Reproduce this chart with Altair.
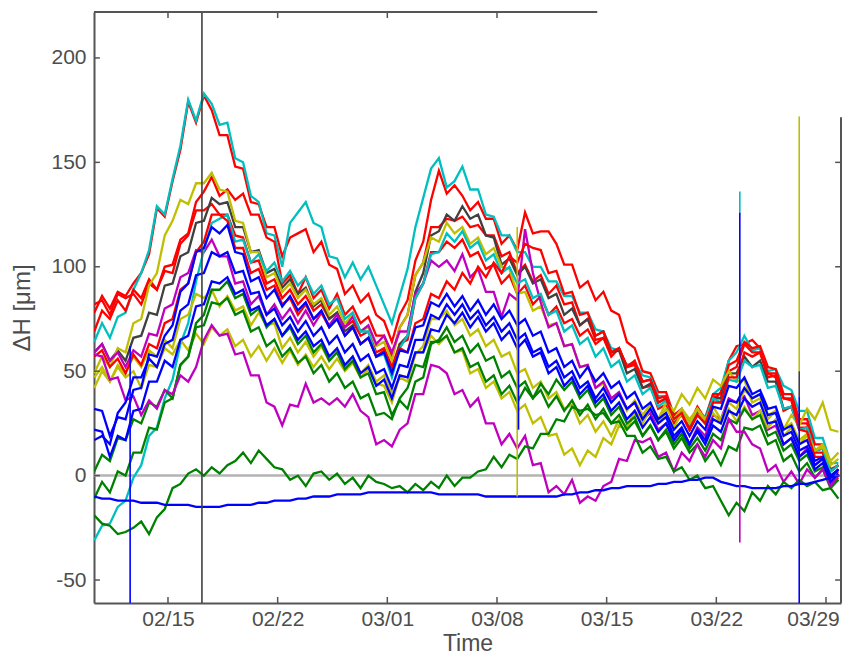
import altair as alt
import pandas as pd

# ---------------- data ----------------
START = "2015-02-10 07:00"   # first sample, one sample every 12 h
N_POINTS = 96

series_names = ["red1", "cyan1", "red2", "red4", "black1", "yellow1", "magenta1",
                "cyan2", "yellow2", "yellow3", "green2", "green3", "red3",
                "magenta2", "blue1", "blue2", "blue3", "green1", "blueflat"]
series_colors = ["#FF0000", "#00BFBF", "#FF0000", "#FF0000", "#404040", "#BFBF00", "#BF00BF",
                 "#00BFBF", "#BFBF00", "#BFBF00", "#008000", "#008000", "#FF0000",
                 "#BF00BF", "#0000FF", "#0000FF", "#0000FF", "#008000", "#0000FF"]

red1 = [78, 86, 80, 88, 86, 92, 97, 106, 128, 124, 141, 156,
        179, 169, 182, 175, 163, 163, 148, 147, 131, 130, 119, 119,
        105, 114, 116, 118, 107, 112, 101, 99, 87, 91, 83, 87,
        77, 74, 64, 77, 84, 103, 112, 132, 146, 135, 139, 134,
        127, 131, 123, 123, 111, 115, 108, 126, 116, 117, 117, 111,
        101, 101, 90, 93, 84, 88, 79, 77, 64, 61, 50, 49,
        40, 40, 29, 31, 23, 32, 25, 36, 40, 55, 62, 63,
        65, 61, 49, 47, 31, 33, 23, 23, 11, 11, 0, 2]
cyan1 = [64, 73, 66, 76, 78, 89, 97, 108, 129, 125, 142, 158,
         180, 170, 183, 178, 168, 169, 152, 150, 134, 131, 116, 115,
         100, 121, 126, 131, 121, 119, 105, 104, 95, 102, 94, 100,
         91, 82, 73, 86, 99, 119, 133, 147, 152, 138, 141, 148,
         137, 137, 125, 124, 115, 115, 107, 107, 100, 100, 93, 93,
         86, 86, 78, 78, 70, 69, 61, 60, 53, 54, 48, 47,
         38, 38, 29, 30, 23, 31, 28, 39, 42, 55, 59, 67,
         60, 61, 50, 51, 43, 41, 31, 31, 18, 18, 6, 6]
red2 = [69, 79, 75, 84, 79, 89, 85, 94, 89, 100, 101, 113,
        116, 131, 136, 143, 134, 137, 132, 135, 125, 125, 114, 112,
        92, 96, 87, 95, 85, 89, 80, 87, 77, 81, 73, 76,
        67, 67, 57, 71, 77, 96, 102, 119, 119, 123, 122, 124,
        119, 120, 115, 115, 105, 107, 97, 101, 93, 96, 87, 91,
        82, 83, 72, 75, 65, 66, 57, 61, 52, 53, 42, 43,
        32, 34, 25, 29, 22, 31, 27, 38, 37, 50, 52, 63,
        59, 59, 47, 48, 37, 37, 25, 25, 12, 13, 2, 5]
red4 = [82, 84, 77, 87, 85, 87, 82, 92, 89, 98, 97, 111,
        115, 127, 127, 130, 125, 125, 115, 114, 102, 103, 92, 94,
        85, 89, 82, 86, 79, 82, 75, 78, 71, 74, 67, 69,
        59, 61, 52, 63, 65, 85, 92, 107, 107, 112, 109, 113,
        105, 107, 99, 101, 92, 96, 87, 91, 82, 86, 77, 81,
        73, 75, 67, 70, 63, 66, 59, 61, 52, 54, 45, 46,
        37, 38, 29, 32, 25, 33, 27, 39, 39, 53, 55, 64,
        61, 62, 52, 51, 39, 39, 27, 27, 15, 15, 3, 5]
black1 = [59, 63, 55, 60, 55, 66, 67, 78, 77, 91, 92, 105,
          107, 121, 122, 133, 130, 131, 119, 119, 107, 108, 97, 99,
          90, 94, 87, 90, 81, 84, 75, 78, 69, 72, 63, 66,
          57, 59, 49, 63, 67, 88, 97, 115, 117, 125, 122, 129,
          123, 125, 115, 114, 101, 104, 96, 100, 92, 94, 85, 87,
          77, 80, 72, 75, 67, 69, 59, 60, 49, 51, 42, 44,
          35, 37, 27, 30, 22, 29, 25, 37, 37, 49, 49, 57,
          52, 55, 45, 45, 32, 33, 22, 23, 12, 13, 2, 5]
yellow1 = [49, 57, 52, 61, 59, 73, 75, 91, 97, 115, 122, 132,
           130, 140, 140, 145, 137, 136, 122, 121, 107, 107, 95, 97,
           88, 92, 85, 89, 82, 85, 77, 81, 73, 77, 69, 71,
           62, 64, 55, 71, 77, 96, 102, 114, 112, 121, 116, 119,
           111, 114, 106, 109, 100, 99, 87, 88, 79, 81, 72, 73,
           62, 63, 52, 53, 42, 44, 35, 39, 31, 36, 29, 34,
           27, 35, 31, 39, 34, 42, 37, 46, 43, 50, 45, 46,
           35, 37, 27, 31, 22, 29, 24, 32, 27, 35, 22, 21]
magenta1 = [59, 63, 55, 59, 52, 60, 57, 68, 67, 80, 82, 95,
            97, 108, 107, 113, 105, 105, 92, 93, 82, 86, 77, 82,
            75, 80, 73, 79, 72, 78, 72, 77, 71, 76, 69, 72,
            63, 67, 59, 69, 69, 87, 92, 103, 100, 103, 98, 106,
            95, 99, 88, 88, 76, 87, 84, 118, 97, 83, 71, 73,
            62, 63, 52, 53, 42, 45, 37, 40, 32, 35, 27, 30,
            22, 25, 17, 22, 15, 23, 19, 29, 27, 37, 35, 38,
            29, 31, 22, 24, 15, 18, 9, 13, 5, 8, -1, 3]
cyan2 = [-31, -24, -23, -15, -12, -1, 5, 19, 23, 37, 46, 63,
         73, 93, 108, 121, 123, 125, 112, 113, 102, 106, 98, 102,
         93, 98, 91, 95, 87, 91, 82, 85, 75, 78, 69, 69,
         57, 58, 47, 61, 67, 85, 92, 106, 107, 116, 112, 117,
         109, 112, 103, 106, 97, 100, 92, 94, 85, 87, 77, 79,
         69, 72, 63, 66, 57, 61, 52, 55, 45, 48, 39, 42,
         33, 36, 27, 32, 25, 32, 27, 37, 35, 46, 45, 55,
         52, 53, 42, 43, 32, 33, 22, 23, 12, 13, 2, 5]
yellow2 = [42, 50, 45, 53, 49, 57, 52, 60, 57, 65, 61, 75,
           77, 87, 85, 89, 81, 86, 79, 81, 72, 78, 72, 73,
           61, 66, 59, 64, 57, 62, 55, 60, 52, 57, 49, 53,
           45, 48, 39, 47, 45, 58, 62, 75, 75, 79, 72, 75,
           67, 70, 62, 65, 57, 59, 49, 51, 42, 45, 37, 40,
           32, 34, 25, 29, 21, 26, 19, 27, 23, 31, 27, 32,
           25, 30, 23, 30, 25, 32, 27, 33, 27, 35, 32, 41,
           37, 39, 29, 31, 22, 25, 17, 20, 12, 14, 5, 8]
yellow3 = [47, 52, 45, 52, 47, 50, 42, 53, 52, 61, 58, 65,
           60, 68, 63, 71, 67, 70, 62, 65, 57, 62, 55, 61,
           54, 60, 53, 58, 52, 57, 51, 56, 50, 54, 47, 51,
           44, 43, 35, 48, 47, 59, 59, 67, 63, 67, 59, 60,
           49, 51, 42, 45, 37, 40, 31, 34, 25, 28, 19, 20,
           10, 13, 5, 12, 9, 18, 15, 24, 22, 30, 25, 32,
           27, 32, 27, 32, 27, 32, 25, 30, 25, 32, 26, 33,
           27, 31, 23, 27, 19, 23, 15, 19, 12, 15, 7, 11]
green2 = [2, 10, 7, 18, 17, 27, 25, 35, 33, 41, 37, 53,
          57, 73, 77, 89, 89, 93, 85, 87, 77, 80, 71, 75,
          67, 71, 63, 67, 59, 63, 55, 59, 51, 55, 47, 49,
          39, 40, 29, 36, 32, 45, 47, 63, 65, 71, 64, 67,
          59, 63, 55, 57, 47, 50, 42, 45, 37, 41, 33, 38,
          31, 36, 29, 34, 27, 32, 25, 29, 22, 26, 19, 24,
          17, 22, 15, 20, 13, 18, 12, 20, 17, 27, 25, 32,
          27, 29, 19, 21, 12, 15, 7, 10, 2, 4, -5, -2]
green3 = [-11, -3, -8, 2, 0, 11, 11, 23, 22, 35, 37, 53,
          57, 71, 72, 83, 82, 85, 77, 79, 69, 71, 62, 65,
          57, 61, 54, 57, 49, 53, 45, 49, 42, 45, 37, 39,
          29, 30, 27, 37, 42, 53, 52, 64, 64, 67, 59, 61,
          52, 54, 45, 48, 39, 43, 35, 42, 37, 44, 39, 46,
          41, 45, 37, 41, 33, 37, 29, 33, 25, 28, 19, 24,
          17, 21, 13, 18, 11, 15, 7, 12, 5, 14, 12, 23,
          22, 24, 15, 17, 7, 10, 2, 6, -1, 3, -6, -2]
red3 = [57, 60, 52, 56, 49, 58, 53, 63, 61, 73, 75, 89,
        92, 107, 112, 125, 125, 122, 109, 109, 97, 99, 89, 91,
        82, 85, 77, 82, 75, 78, 71, 75, 67, 71, 63, 66,
        57, 60, 52, 61, 59, 73, 75, 87, 85, 93, 89, 97,
        92, 100, 95, 102, 97, 105, 102, 111, 109, 108, 97, 98,
        87, 88, 77, 78, 67, 69, 59, 61, 52, 55, 45, 46,
        35, 37, 27, 30, 22, 29, 25, 35, 35, 47, 47, 59,
        57, 59, 49, 49, 37, 36, 22, 21, 9, 9, -3, -1]
magenta2 = [58, 57, 46, 47, 36, 38, 29, 36, 32, 41, 39, 48,
            45, 52, 65, 72, 67, 68, 58, 59, 48, 48, 35, 33,
            24, 34, 33, 44, 35, 37, 34, 37, 33, 39, 31, 28,
            15, 17, 14, 22, 25, 39, 39, 53, 52, 49, 39, 41,
            33, 37, 25, 25, 15, 20, 13, 19, 5, 6, -8, -5,
            -9, -2, -13, -10, -12, -5, -3, 8, 7, 17, 16, 18,
            9, 11, 2, 11, 7, 15, 9, 17, 13, 27, 21, 21,
            15, 13, 2, 5, -3, 2, -4, 3, -1, 3, -5, 0]
blue1 = [32, 31, 19, 28, 27, 41, 42, 58, 57, 67, 72, 88,
         92, 107, 109, 119, 116, 120, 107, 106, 93, 95, 85, 89,
         81, 86, 79, 83, 75, 79, 71, 75, 67, 71, 63, 66,
         57, 59, 49, 60, 59, 71, 72, 83, 81, 87, 81, 86,
         79, 84, 77, 82, 75, 79, 72, 75, 67, 69, 59, 61,
         52, 55, 47, 52, 45, 49, 42, 45, 37, 40, 32, 35,
         27, 30, 22, 26, 19, 26, 22, 33, 32, 43, 42, 47,
         39, 41, 32, 33, 22, 24, 15, 17, 7, 9, 0, 3]
blue2 = [17, 19, 15, 30, 35, 47, 47, 56, 52, 63, 65, 79,
         82, 96, 97, 107, 105, 107, 97, 98, 87, 88, 77, 80,
         72, 76, 69, 74, 67, 71, 63, 67, 59, 63, 55, 58,
         49, 51, 42, 53, 52, 65, 65, 77, 75, 82, 77, 82,
         75, 79, 72, 76, 69, 73, 65, 68, 59, 61, 52, 55,
         47, 50, 42, 45, 37, 42, 35, 39, 32, 35, 27, 32,
         25, 28, 19, 23, 15, 22, 17, 27, 25, 36, 35, 42,
         37, 39, 29, 30, 19, 21, 12, 14, 5, 8, -1, 3]
blue3 = [22, 21, 9, 19, 17, 31, 32, 45, 45, 55, 52, 65,
         67, 81, 82, 93, 92, 95, 87, 89, 79, 81, 72, 75,
         67, 72, 65, 69, 62, 65, 57, 61, 53, 57, 49, 52,
         43, 46, 37, 48, 47, 59, 59, 70, 69, 77, 73, 78,
         71, 76, 69, 73, 65, 69, 61, 65, 57, 59, 49, 52,
         43, 47, 39, 43, 35, 39, 31, 35, 27, 31, 23, 28,
         21, 25, 17, 22, 15, 21, 15, 24, 21, 31, 29, 37,
         33, 35, 25, 26, 15, 18, 9, 12, 3, 6, -3, 1]
green1 = [-19, -23, -24, -28, -27, -25, -22, -28, -20, -16, -6, -4,
          1, 3, 0, 4, 1, 5, 7, 11, 6, 12, 8, 4,
          3, -2, 0, -5, 1, 2, -2, 1, -4, -1, -6, 0,
          -3, -4, -6, -5, -8, -4, -7, -3, -6, 0, -5, -1,
          -1, 2, 3, 9, 4, 10, 8, 14, 13, 20, 20, 27,
          26, 33, 31, 32, 29, 30, 25, 26, 19, 19, 11, 14,
          8, 9, 2, 4, -2, 0, -6, -5, -12, -19, -13, -17,
          -8, -12, -5, -9, -3, -6, -2, -5, -3, -7, -6, -11]
blueflat = [-10, -11, -11, -12, -12, -12, -13, -13, -13, -14, -14, -14,
            -14, -15, -15, -15, -15, -14, -14, -14, -14, -13, -13, -12,
            -12, -12, -11, -11, -10, -10, -10, -9, -9, -9, -9, -8,
            -8, -8, -8, -8, -8, -8, -8, -8, -9, -9, -9, -9,
            -9, -9, -10, -10, -10, -10, -10, -10, -10, -10, -10, -10,
            -9, -9, -8, -8, -7, -7, -6, -6, -5, -5, -5, -5,
            -4, -4, -3, -3, -2, -2, -1, -1, -3, -4, -5, -5,
            -6, -6, -6, -6, -5, -5, -4, -4, -3, -2, -1, 0]

series_values = [red1, cyan1, red2, red4, black1, yellow1, magenta1,
                 cyan2, yellow2, yellow3, green2, green3, red3,
                 magenta2, blue1, blue2, blue3, green1, blueflat]

# single-sample spikes (vertical strokes)
spike_times = ["2015-02-12 14:00", "2015-02-17 04:00", "2015-03-09 07:00", "2015-03-09 09:00",
               "2015-03-23 12:00", "2015-03-23 12:00", "2015-03-23 12:00",
               "2015-03-27 07:00", "2015-03-27 07:00", "2015-03-27 07:00"]
spike_top = [62, 230, 119, 88, 136, 126, 30, 172, 50, 38]
spike_bottom = [-70, -70, -10, 22, 126, 30, -32, 50, 38, -70]
spike_colors = ["#0000FF", "#404040", "#BFBF00", "#0000FF", "#00BFBF", "#0000FF", "#BF00BF",
                "#BFBF00", "#404040", "#0000FF"]

# axes
x_ticks = ["2015-02-15", "2015-02-22", "2015-03-01", "2015-03-08", "2015-03-15", "2015-03-22", "2015-03-29"]
x_ticks_top = x_ticks[:4]
y_ticks = [-50, 0, 50, 100, 150, 200]
y_ticks_right = [-50, 0, 50, 100, 150]
X_MIN = "2015-02-10 06:39"
X_MAX = "2015-03-29 23:00"
Y_MIN, Y_MAX = -61, 222
TOP_FRAME_END = "2015-03-14 09:36"   # frame is cut by a blank box at top right
RIGHT_FRAME_TOP = 171.6

# ---------------- build ----------------
FONT = "Liberation Sans"
TXT = "#4d4d4d"
FRAME = "#555555"
TICK_Y = 2.9
TICK_X = pd.Timedelta(hours=9)

times = pd.date_range(START, periods=N_POINTS, freq="12h")
rows = []
for k, (name, vals) in enumerate(zip(series_names, series_values)):
    for t, v in zip(times, vals):
        rows.append({"t": t, "v": v, "s": name, "o": k})
df = pd.DataFrame(rows)

def dt(s):
    p = pd.Timestamp(s)
    return alt.DateTime(year=p.year, month=p.month, date=p.day, hours=p.hour, minutes=p.minute)

xscale = alt.Scale(domain=[dt(X_MIN), dt(X_MAX)], nice=False)
yscale = alt.Scale(domain=[Y_MIN, Y_MAX], nice=False, zero=False)
xaxis = alt.Axis(title="Time", values=[dt(s) for s in x_ticks], format="%m/%d",
                 grid=False, ticks=False, tickSize=0, labelFont=FONT, titleFont=FONT,
                 labelFontSize=21, titleFontSize=23, labelColor=TXT, titleColor=TXT,
                 titleFontWeight="normal", domainColor=FRAME, domainWidth=2,
                 labelPadding=5, titleY=47, titleBaseline="alphabetic",
                 labelOffset={"condition": {"test": "datum.value >= datetime(2015, 2, 28)", "value": -13},
                              "value": 0},
                 labelFlush=False, labelOverlap=False)
yaxis = alt.Axis(title="ΔH [μm]", values=y_ticks, labelExpr="'' + datum.value",
                 grid=False, ticks=False, tickSize=0, labelFont=FONT, titleFont=FONT,
                 labelFontSize=21, titleFontSize=24, labelColor=TXT, titleColor=TXT,
                 titleFontWeight="normal", domainColor=FRAME, domainWidth=2,
                 labelPadding=8, titlePadding=16, labelFlush=False)

def X(f):
    return alt.X(f, type="temporal", scale=xscale, axis=xaxis)

def Y(f):
    return alt.Y(f, type="quantitative", scale=yscale, axis=yaxis)

zero = alt.Chart(pd.DataFrame({"v": [0]})).mark_rule(color="#b3b3b3", strokeWidth=2.5).encode(y=Y("v"))

lines = alt.Chart(df).mark_line(strokeWidth=2.3, clip=True).encode(
    x=X("t"), y=Y("v"),
    color=alt.Color("s:N", scale=alt.Scale(domain=series_names, range=series_colors), legend=None),
    order=alt.Order("o:Q"),
)

spk = pd.DataFrame({"t": pd.to_datetime(spike_times), "v": spike_top, "v2": spike_bottom, "c": spike_colors})
spikes = alt.Chart(spk).mark_rule(strokeWidth=1.6, clip=True).encode(
    x=X("t"), y=Y("v"), y2="v2", color=alt.Color("c:N", scale=None))

top_df = pd.DataFrame({"t": [pd.Timestamp(X_MIN)], "t2": [pd.Timestamp(TOP_FRAME_END)], "v": [Y_MAX]})
top_frame = alt.Chart(top_df).mark_rule(color=FRAME, strokeWidth=2).encode(x=X("t"), x2="t2", y=Y("v"))
right_df = pd.DataFrame({"t": [pd.Timestamp(X_MAX)], "v": [Y_MIN], "v2": [RIGHT_FRAME_TOP]})
right_frame = alt.Chart(right_df).mark_rule(color=FRAME, strokeWidth=2).encode(x=X("t"), y=Y("v"), y2="v2")

bt = pd.DataFrame({"t": pd.to_datetime(x_ticks), "v": Y_MIN, "v2": Y_MIN + TICK_Y})
tt = pd.DataFrame({"t": pd.to_datetime(x_ticks_top), "v": Y_MAX, "v2": Y_MAX - TICK_Y})
lt = pd.DataFrame({"v": y_ticks, "t": pd.Timestamp(X_MIN), "t2": pd.Timestamp(X_MIN) + TICK_X})
rt = pd.DataFrame({"v": y_ticks_right, "t": pd.Timestamp(X_MAX), "t2": pd.Timestamp(X_MAX) - TICK_X})
tick_style = dict(color=FRAME, strokeWidth=1.5)
ticks = [
    alt.Chart(bt).mark_rule(**tick_style).encode(x=X("t"), y=Y("v"), y2="v2"),
    alt.Chart(tt).mark_rule(**tick_style).encode(x=X("t"), y=Y("v"), y2="v2"),
    alt.Chart(lt).mark_rule(**tick_style).encode(x=X("t"), x2="t2", y=Y("v")),
    alt.Chart(rt).mark_rule(**tick_style).encode(x=X("t"), x2="t2", y=Y("v")),
]

chart = alt.layer(zero, lines, spikes, top_frame, right_frame, *ticks).properties(
    width=747, height=591,
    autosize=alt.AutoSizeParams(type="none"),
    padding={"left": 86, "top": 4, "right": 1, "bottom": 52},
    background="white",
).configure_view(strokeWidth=0)

chart.save("out.html", embed_options={"renderer": "svg", "actions": False})
